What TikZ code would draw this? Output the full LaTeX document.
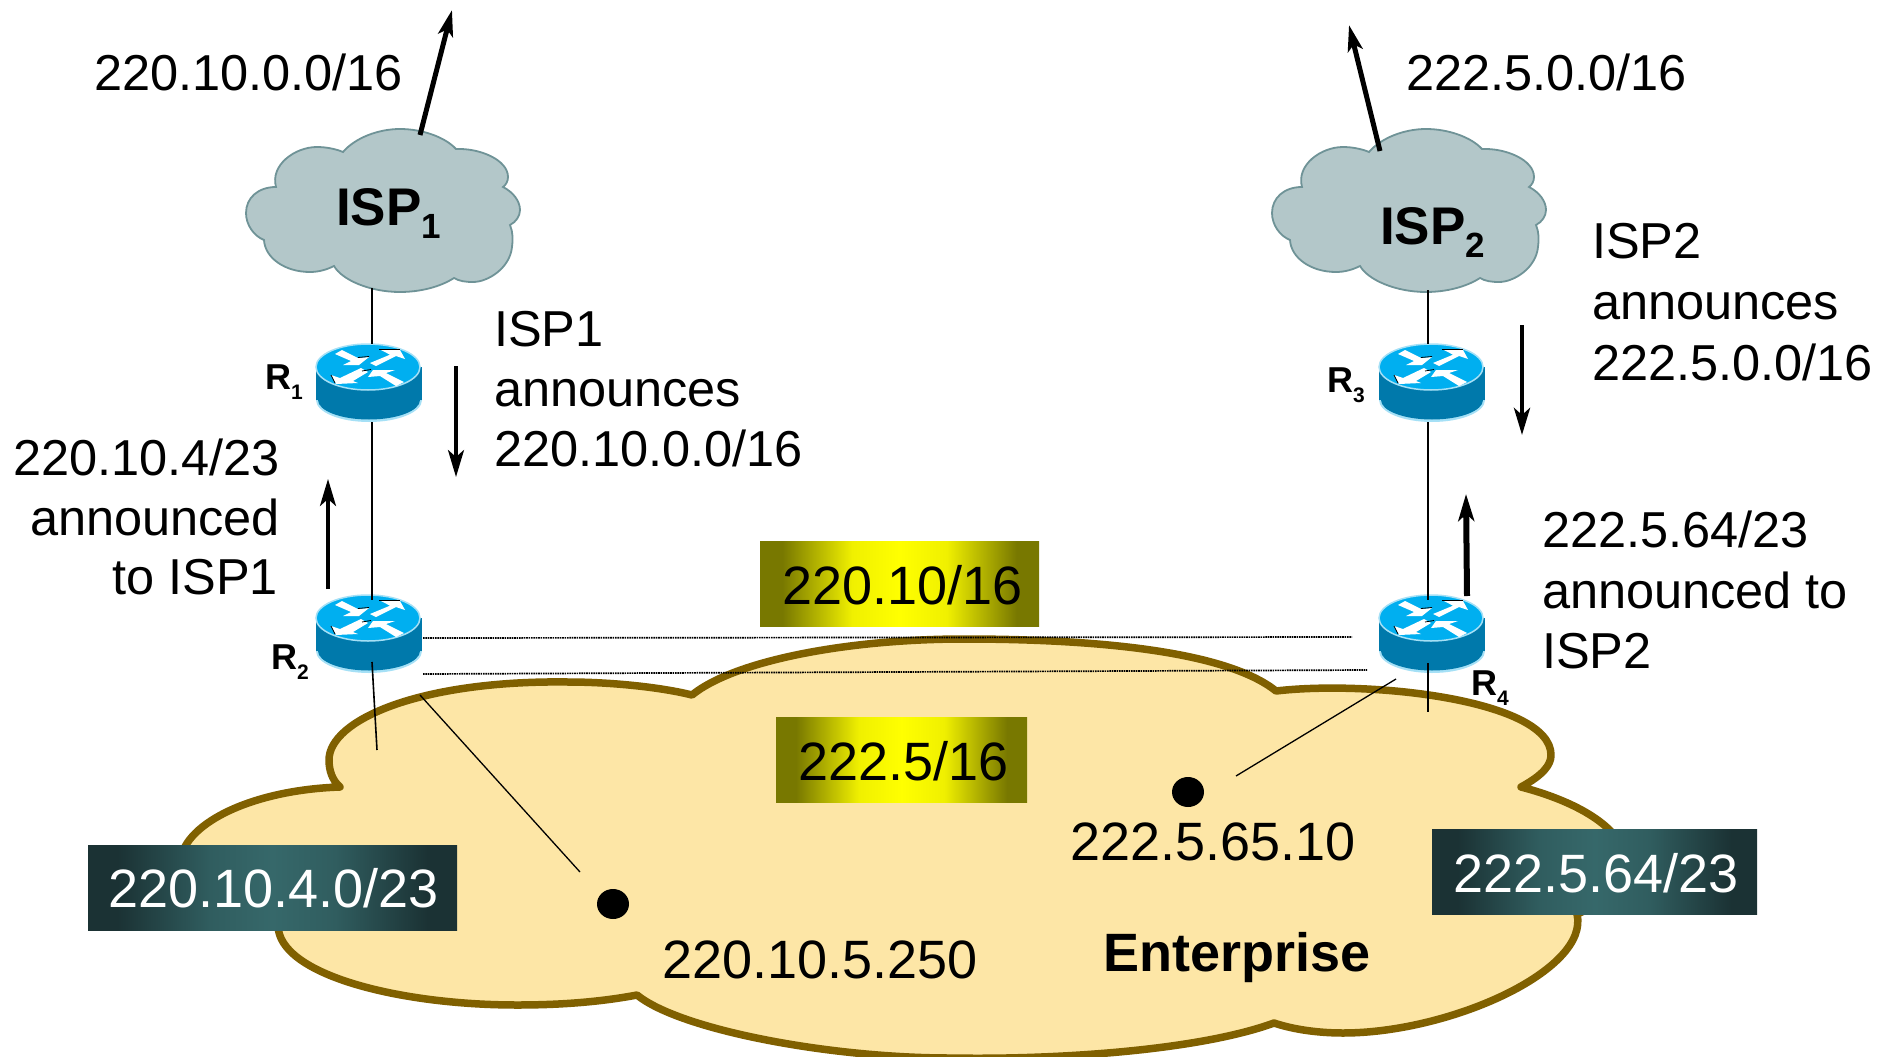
\documentclass[tikz,border=0pt]{standalone}
\usepackage{fontspec}
\setmainfont{Liberation Sans}
\usetikzlibrary{arrows.meta}
\definecolor{entfill}{HTML}{FDE6A6}
\definecolor{entline}{HTML}{806000}
\definecolor{ispfill}{HTML}{B3C7C9}
\definecolor{ispline}{HTML}{6F9397}
\definecolor{rtop}{HTML}{00AFF0}
\definecolor{rbody}{HTML}{0079AB}
\definecolor{rhalo}{HTML}{A5E0F6}
\definecolor{olivey}{HTML}{787800}
\definecolor{oliveb}{HTML}{F0F000}
\definecolor{teald}{HTML}{1B3234}
\definecolor{tealb}{HTML}{305D5F}
\definecolor{tealm}{HTML}{36686A}
\pgfdeclarehorizontalshading{yellowshade}{100bp}{color(0bp)=(olivey); color(25bp)=(olivey); color(29bp)=(olivey); color(41.5bp)=(oliveb); color(50bp)=(yellow); color(58.5bp)=(oliveb); color(71bp)=(olivey); color(75bp)=(olivey); color(100bp)=(olivey)}
\pgfdeclarehorizontalshading{tealshade}{100bp}{color(0bp)=(teald); color(25bp)=(teald); color(29bp)=(teald); color(41.5bp)=(tealb); color(50bp)=(tealm); color(58.5bp)=(tealb); color(71bp)=(teald); color(75bp)=(teald); color(100bp)=(teald)}
\newcommand{\bigtxt}{\fontsize{50.5}{60}\selectfont}
\newcommand{\boxtxt}{\fontsize{54}{60}\selectfont}
\tikzset{
  x=1pt,y=-1pt,
  txt/.style={anchor=base west,inner sep=0pt,outer sep=0pt,text=black,font=\bigtxt},
  txtr/.style={txt,anchor=base east},
  btxt/.style={txt,font=\boxtxt},
  wtxt/.style={btxt,text=white},
  thinline/.style={draw=black,line width=1.6pt},
  dotline/.style={draw=black,line width=1.7pt,dash pattern=on 1.6pt off 0.8pt},
  bigarrow/.style={draw=black,line width=5pt,-{Stealth[length=26pt,width=15pt,inset=6pt]}},
  midarrow/.style={draw=black,line width=3.5pt,-{Stealth[length=27pt,width=16pt,inset=7pt]}},
  yellowbox/.style={shading=yellowshade,shading angle=0},
  tealbox/.style={shading=tealshade,shading angle=0},
  ispcloud/.pic={
    \path[fill=ispfill,draw=ispline,line width=1.8pt]
      (343,152) .. controls (355,138) and (378,129) .. (400,129)
      .. controls (422,129) and (445,137) .. (456,149)
      .. controls (480,148) and (508,160) .. (508,177)
      .. controls (508,181) and (506,185) .. (503,187)
      .. controls (513,192) and (520,201) .. (520,210)
      .. controls (520,216) and (516,222) .. (510,225)
      .. controls (513,232) and (513,240) .. (512,247)
      .. controls (510,268) and (488,282) .. (473,282)
      .. controls (465,282) and (459,281) .. (454,278)
      .. controls (440,287) and (420,292) .. (400,292)
      .. controls (370,292) and (342,280) .. (334,266)
      .. controls (326,270) and (318,272) .. (310,272)
      .. controls (285,272) and (265,258) .. (264,240)
      .. controls (254,236) and (246,225) .. (246,213)
      .. controls (246,198) and (258,187) .. (276,187)
      .. controls (270,165) and (295,147) .. (317,147)
      .. controls (326,147) and (336,149) .. (343,152) -- cycle;
  },
  routerpic/.pic={
    \fill[rhalo] (1,33) ellipse [x radius=53pt,y radius=22pt];
    \fill[rbody] (1,33) ellipse [x radius=51pt,y radius=19.5pt];
    \fill[rbody] (-52,0) rectangle (54,33);
    \path[fill=rtop,draw=rhalo,line width=1.5pt] (0,0) ellipse [x radius=52pt,y radius=23pt];
    \fill[white] (-33,-13) -- (-26,-17) -- (-10,-9) -- (1,-10) -- (-9,-2) -- (-25,-2) -- (-17,-6) -- cycle;
    \fill[white] (13,-17) -- (32,-17) -- (37,-8) -- (28,-11) -- (8,-1) -- (2,-4) -- (22,-12.3) -- cycle;
    \fill[white] (0,5) -- (-15,14) -- (-10,16) -- (-32,17) -- (-37,8) -- (-28,11) -- (-7,1) -- cycle;
    \fill[white] (0,10) -- (5,3) -- (27,3) -- (18,6) -- (36,15) -- (28,19) -- (12,9) -- cycle;
    \draw[black,line width=0.8pt] (11,-17.5) -- (32,-17.5);
    \draw[black,line width=0.8pt] (-10,-9.5) -- (1,-10.5);
    \draw[black,line width=0.8pt] (-37,8) -- (-33,16);
    \draw[black,line width=0.8pt] (-6,4) -- (3,2.5);
  }
}
\begin{document}
\begin{tikzpicture}
\useasboundingbox (0,0) rectangle (1890,1057);
\clip (0,0) rectangle (1890,1057);
\fill[white] (0,0) rectangle (1890,1057);

% enterprise cloud
\path[fill=entfill,draw=entline,line width=7.5pt,line join=round]
  (692,695) .. controls (735,660) and (850,639) .. (964,639)
  .. controls (1090,639) and (1225,650) .. (1276,691)
  .. controls (1370,680) and (1551,700) .. (1551,755)
  .. controls (1551,765) and (1543,775) .. (1521,787)
  .. controls (1590,805) and (1625,835) .. (1625,860)
  .. controls (1625,885) and (1600,905) .. (1577,914)
  .. controls (1590,970) and (1450,1033) .. (1343,1033)
  .. controls (1320,1033) and (1295,1030) .. (1274,1023)
  .. controls (1200,1050) and (1060,1060) .. (950,1058)
  .. controls (830,1058) and (680,1030) .. (637,995)
  .. controls (600,1002) and (560,1005) .. (517,1005)
  .. controls (400,1005) and (278,975) .. (278,925)
  .. controls (220,910) and (180,890) .. (180,865)
  .. controls (180,825) and (250,790) .. (340,787)
  .. controls (332,780) and (329,770) .. (329,760)
  .. controls (329,720) and (420,680) .. (568,682)
  .. controls (610,682) and (660,687) .. (692,695) -- cycle;

% ISP clouds
\pic at (0,0) {ispcloud};
\pic at (1026,0) {ispcloud};

% anchors of the connectors
\coordinate (ISP1top) at (420,135);
\coordinate (ISP1out) at (452,10);
\coordinate (ISP2top) at (1380,151);
\coordinate (ISP2out) at (1349,25);
\coordinate (ISP1bot) at (372,288);
\coordinate (ISP2bot) at (1428,290);
\coordinate (R1top) at (372,344);
\coordinate (R1bot) at (372,422);
\coordinate (R2top) at (372,600);
\coordinate (R2bot) at (372,662);
\coordinate (R2end) at (377,750);
\coordinate (R3top) at (1428,344);
\coordinate (R3bot) at (1428,422);
\coordinate (R4top) at (1428,600);
\coordinate (R4bot) at (1428,663);
\coordinate (R4end) at (1428,712);
\coordinate (R2a) at (423,638);
\coordinate (R4a) at (1352,637);
\coordinate (R2b) at (423,674);
\coordinate (R4b) at (1367,670);
\coordinate (HostAa) at (420,695);
\coordinate (HostAb) at (580,872);
\coordinate (HostBa) at (1396,679);
\coordinate (HostBb) at (1236,776);
\coordinate (DownAa) at (456,366);
\coordinate (DownAb) at (456,477);
\coordinate (UpAa) at (328,589);
\coordinate (UpAb) at (328,479);
\coordinate (DownBa) at (1522,325);
\coordinate (DownBb) at (1522,435);
\coordinate (UpBa) at (1467,596);
\coordinate (UpBb) at (1466,494);

% routers
\pic at (368,367) {routerpic};
\pic at (368,618) {routerpic};
\pic at (1431,367) {routerpic};
\pic at (1431,618) {routerpic};

% connectors
\draw[thinline] (ISP1bot) -- (R1top);
\draw[thinline] (R1bot) -- (R2top);
\draw[thinline] (R2bot) -- (R2end);
\draw[thinline] (ISP2bot) -- (R3top);
\draw[thinline] (R3bot) -- (R4top);
\draw[thinline] (R4bot) -- (R4end);
\draw[dotline] (R2a) -- (R4a);
\draw[dotline] (R2b) -- (R4b);
\draw[thinline,line width=1.3pt] (HostAa) -- (HostAb);
\draw[thinline,line width=1.3pt] (HostBa) -- (HostBb);
\draw[bigarrow] (ISP1top) -- (ISP1out);
\draw[bigarrow] (ISP2top) -- (ISP2out);
\draw[midarrow] (DownAa) -- (DownAb);
\draw[midarrow] (UpAa) -- (UpAb);
\draw[midarrow,line width=4.5pt] (DownBa) -- (DownBb);
\draw[midarrow,line width=6pt] (UpBa) -- (UpBb);

% hosts
\fill[black] (613,904) ellipse [x radius=16pt,y radius=15pt];
\fill[black] (1188,792) ellipse [x radius=16pt,y radius=15pt];

% gradient boxes
\shade[yellowbox] (760,541) rectangle (1039,626);
\shade[yellowbox] (776,717) rectangle (1027,802);
\shade[tealbox] (88,845) rectangle (457,930);
\shade[tealbox] (1432,829) rectangle (1757,914);
\node[btxt] (lblA) at (782,604) {220.10/16};
\node[btxt] (lblB) at (798,780) {222.5/16};
\node[wtxt] (lblC) at (108,907) {220.10.4.0/23};
\node[wtxt] (lblD) at (1453,892) {222.5.64/23};

% texts
\node[txt] (t1) at (94,90) {220.10.0.0/16};
\node[txt] (t2) at (1406,90) {222.5.0.0/16};
\node[txt] (t3a) at (494,346) {ISP1};
\node[txt] (t3b) at (494,406) {announces};
\node[txt] (t3c) at (494,466) {220.10.0.0/16};
\node[txtr] (t4a) at (280,475) {220.10.4/23};
\node[txtr] (t4b) at (280,535) {announced};
\node[txtr] (t4c) at (278,594) {to ISP1};
\node[txt] (t5a) at (1592,258) {ISP2};
\node[txt] (t5b) at (1592,319) {announces};
\node[txt] (t5c) at (1592,380) {222.5.0.0/16};
\node[txt] (t6a) at (1542,547) {222.5.64/23};
\node[txt] (t6b) at (1542,608) {announced to};
\node[txt] (t6c) at (1542,668) {ISP2};
\node[btxt] (t7) at (662,978) {220.10.5.250};
\node[btxt] (t8) at (1070,860) {222.5.65.10};
\node[btxt,font=\boxtxt\bfseries] (t9) at (1103,971) {Enterprise};

% cloud and router names
\node[txt,font=\fontsize{53}{60}\selectfont\bfseries] (n1) at (336,225) {ISP\lower13pt\hbox{\fontsize{35}{36}\selectfont 1}};
\node[txt,font=\fontsize{53}{60}\selectfont\bfseries] (n2) at (1380,244) {ISP\lower13pt\hbox{\fontsize{35}{36}\selectfont 2}};
\node[txt,font=\fontsize{36}{40}\selectfont\bfseries] (r1) at (265,389) {R\lower10pt\hbox{\fontsize{21}{24}\selectfont 1}};
\node[txt,font=\fontsize{36}{40}\selectfont\bfseries] (r2) at (271,669) {R\lower10pt\hbox{\fontsize{21}{24}\selectfont 2}};
\node[txt,font=\fontsize{36}{40}\selectfont\bfseries] (r3) at (1327,392) {R\lower10pt\hbox{\fontsize{21}{24}\selectfont 3}};
\node[txt,font=\fontsize{36}{40}\selectfont\bfseries] (r4) at (1471,695) {R\lower10pt\hbox{\fontsize{21}{24}\selectfont 4}};
\end{tikzpicture}
\end{document}
